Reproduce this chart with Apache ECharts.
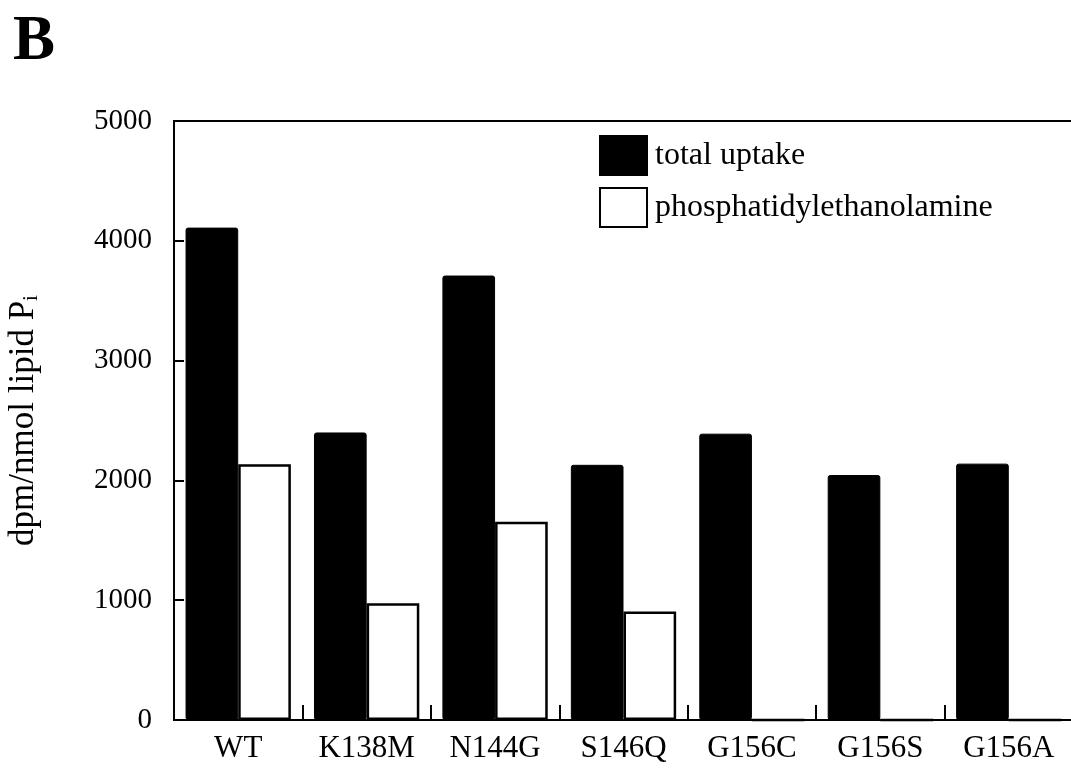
<html>
    <head>
        <meta charset="utf-8">
        <script src='https://cdn.jsdelivr.net/npm/echarts@6/dist/echarts.min.js'></script>
    </head>
    <body>
        <style>
            html, body, #main {
                width: 100%;
                height: 100%;
                margin: 0;
                background: #fff;
            }
        </style>
        <div id='main'></div>
        <script>
            var categories = ['WT', 'K138M', 'N144G', 'S146Q', 'G156C', 'G156S', 'G156A'];
            var totalUptake = [4110, 2400, 3710, 2130, 2390, 2045, 2140];
            var phosphatidylethanolamine = [2135, 975, 1655, 905, 0, 0, 0];
            var yTicks = [0, 1000, 2000, 3000, 4000, 5000];

            var serif = '"Liberation Serif", "DejaVu Serif", serif';
            var chart = echarts.init(document.getElementById('main'));

            var option = {
                animation: false,
                backgroundColor: '#fff',
                title: {
                    text: 'B',
                    left: 8,
                    top: 6,
                    textStyle: { fontFamily: serif, fontWeight: 'bold', fontSize: 63, color: '#000' }
                },
                legend: {
                    orient: 'vertical',
                    left: 594,
                    top: 130,
                    itemWidth: 47,
                    itemHeight: 39,
                    itemGap: 11,
                    icon: 'rect',
                    textStyle: { fontFamily: serif, fontSize: 32, color: '#000', padding: [0, 0, 0, 3] },
                    data: ['total uptake', 'phosphatidylethanolamine']
                },
                grid: {
                    left: 174,
                    top: 121,
                    bottom: 52,
                    right: -2,
                    outerBoundsMode: 'none',
                    containLabel: false,
                    show: true,
                    borderColor: '#000',
                    borderWidth: 2
                },
                xAxis: {
                    type: 'category',
                    data: categories,
                    z: 10,
                    axisLine: { lineStyle: { color: '#000', width: 2 } },
                    axisTick: { show: true, alignWithLabel: false, inside: true, length: 15, lineStyle: { color: '#000', width: 2 } },
                    axisLabel: { fontFamily: serif, fontSize: 31, color: '#000', margin: 13 }
                },
                yAxis: {
                    type: 'value',
                    min: 0,
                    max: yTicks[yTicks.length - 1],
                    interval: 1000,
                    name: '{a|dpm/nmol lipid P}{s|i}',
                    nameLocation: 'middle',
                    nameRotate: 90,
                    nameGap: 132,
                    nameTextStyle: {
                        rich: {
                            a: { fontFamily: serif, fontSize: 35, color: '#000' },
                            s: { fontFamily: serif, fontSize: 21, color: '#000', padding: [15, 0, 0, 0] }
                        }
                    },
                    splitLine: { show: false },
                    axisLine: { show: true, lineStyle: { color: '#000', width: 2 } },
                    axisTick: { show: true, inside: true, length: 10, lineStyle: { color: '#000', width: 2 } },
                    axisLabel: {
                        fontFamily: serif, fontSize: 29, color: '#000', margin: 22,
                        formatter: function (v) { return String(v); }
                    }
                },
                series: [
                    {
                        name: 'total uptake',
                        type: 'bar',
                        data: totalUptake,
                        barGap: '0%',
                        barCategoryGap: '18%',
                        itemStyle: { color: '#000', borderColor: '#000', borderWidth: 1, borderRadius: 2 }
                    },
                    {
                        name: 'phosphatidylethanolamine',
                        type: 'bar',
                        data: phosphatidylethanolamine,
                        itemStyle: { color: '#fff', borderColor: '#000', borderWidth: 2.5 }
                    }
                ]
            };

            chart.setOption(option);

            window.onresize = function () {
                chart.resize();
            }
        </script>
    </body>
</html>
